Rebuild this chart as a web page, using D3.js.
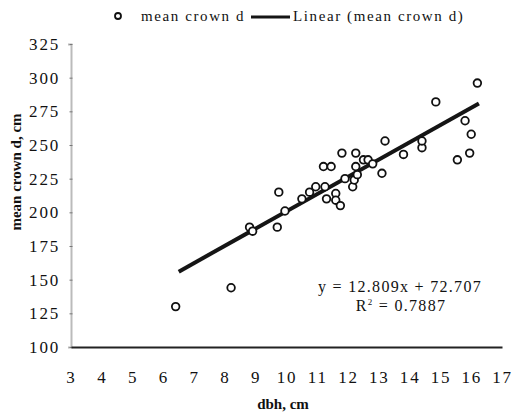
<!DOCTYPE html>
<head>
  <style>
    body { margin: 0; background: #fff; }
    svg text { font-family: "Times New Roman", "Liberation Serif", "DejaVu Serif", serif; fill: #111; }
    .tick text { font-size: 17px; letter-spacing: 1.8px; }
    .axis-label { font-size: 15px; font-weight: bold; }
    .legend { font-size: 15px; letter-spacing: 1.6px; }
    .eq { font-size: 16px; letter-spacing: 1.3px; }
  </style>
</head>
<body>
  <script src="https://cdn.jsdelivr.net/npm/d3@7"></script>
  <script>
    // data
    const dbh = [6.4, 8.2, 8.8, 8.9, 9.7, 9.75, 9.95, 10.5, 10.75, 10.95, 11.2, 11.25, 11.3,
                 11.45, 11.6, 11.6, 11.75, 11.8, 11.9, 12.15, 12.2, 12.25, 12.25, 12.3, 12.5,
                 12.65, 12.8, 13.1, 13.2, 13.8, 14.4, 14.4, 14.85, 15.55, 15.8, 15.95, 16.0, 16.2];
    const crown = [130, 144, 189, 186, 189, 215, 201, 210, 215, 219, 234, 219, 210,
                   234, 214, 209, 205, 244, 225, 219, 224, 234, 244, 228, 239,
                   239, 236, 229, 253, 243, 248, 253, 282, 239, 268, 244, 258, 296];
    const xTicks = [3, 4, 5, 6, 7, 8, 9, 10, 11, 12, 13, 14, 15, 16, 17];
    const yTicks = [100, 125, 150, 175, 200, 225, 250, 275, 300, 325];
    const slope = 12.809, intercept = 72.707;
    const trendX = [6.5, 16.25];

    const W = 512, H = 418;
    const margin = { top: 44, right: 10, bottom: 71, left: 71 };

    const x = d3.scaleLinear().domain([3, 17]).range([margin.left, 502]);
    const y = d3.scaleLinear().domain([100, 325]).range([H - margin.bottom, margin.top]);

    const svg = d3.select("body").append("svg")
      .attr("width", W)
      .attr("height", H);

    // y axis (light grey line, small ticks)
    const yAxis = svg.append("g")
      .attr("transform", `translate(${margin.left},0)`)
      .call(d3.axisLeft(y).tickValues(yTicks).tickSize(3).tickPadding(8));
    yAxis.attr("font-family", null);
    yAxis.select(".domain").attr("stroke", "#bbb").attr("stroke-width", 2);
    yAxis.selectAll(".tick line").attr("stroke", "#777").attr("transform", "translate(1.5,0)");

    // x axis
    const xAxis = svg.append("g")
      .attr("transform", `translate(0,${y(100)})`)
      .call(d3.axisBottom(x).tickValues(xTicks).tickSize(0).tickPadding(24));
    xAxis.attr("font-family", null);
    xAxis.select(".domain").attr("stroke", "#222").attr("stroke-width", 1.8);

    // trend line
    svg.append("line")
      .attr("x1", x(trendX[0])).attr("y1", y(slope * trendX[0] + intercept))
      .attr("x2", x(trendX[1])).attr("y2", y(slope * trendX[1] + intercept))
      .attr("stroke", "#151515")
      .attr("stroke-width", 4);

    // points
    svg.append("g").selectAll("circle")
      .data(dbh.map((d, i) => [d, crown[i]]))
      .enter()
      .append("circle")
      .attr("cx", d => x(d[0]))
      .attr("cy", d => y(d[1]))
      .attr("r", 3.8)
      .attr("fill", "#fff")
      .attr("stroke", "#111")
      .attr("stroke-width", 1.8);

    // axis labels
    svg.append("text")
      .attr("class", "axis-label")
      .attr("x", 283).attr("y", 409)
      .attr("text-anchor", "middle")
      .text("dbh, cm");

    svg.append("text")
      .attr("class", "axis-label")
      .attr("transform", "translate(21,172) rotate(-90)")
      .attr("text-anchor", "middle")
      .text("mean crown d, cm");

    // legend
    const lg = svg.append("g");
    lg.append("circle").attr("cx", 118).attr("cy", 16).attr("r", 3)
      .attr("fill", "#fff").attr("stroke", "#111").attr("stroke-width", 1.8);
    lg.append("text").attr("class", "legend").attr("x", 141).attr("y", 21).text("mean crown d");
    lg.append("line").attr("x1", 251).attr("x2", 290).attr("y1", 17).attr("y2", 17)
      .attr("stroke", "#151515").attr("stroke-width", 3);
    lg.append("text").attr("class", "legend").attr("x", 293).attr("y", 21).text("Linear (mean crown d)");

    // equation
    svg.append("text").attr("class", "eq")
      .attr("x", 400).attr("y", 292).attr("text-anchor", "middle")
      .text("y = 12.809x + 72.707");
    const r2 = svg.append("text").attr("class", "eq")
      .attr("x", 401).attr("y", 311).attr("text-anchor", "middle");
    r2.append("tspan").text("R");
    r2.append("tspan").attr("dy", -6).attr("font-size", 9).text("2");
    r2.append("tspan").attr("dy", 6).text(" = 0.7887");
  </script>
</body>
